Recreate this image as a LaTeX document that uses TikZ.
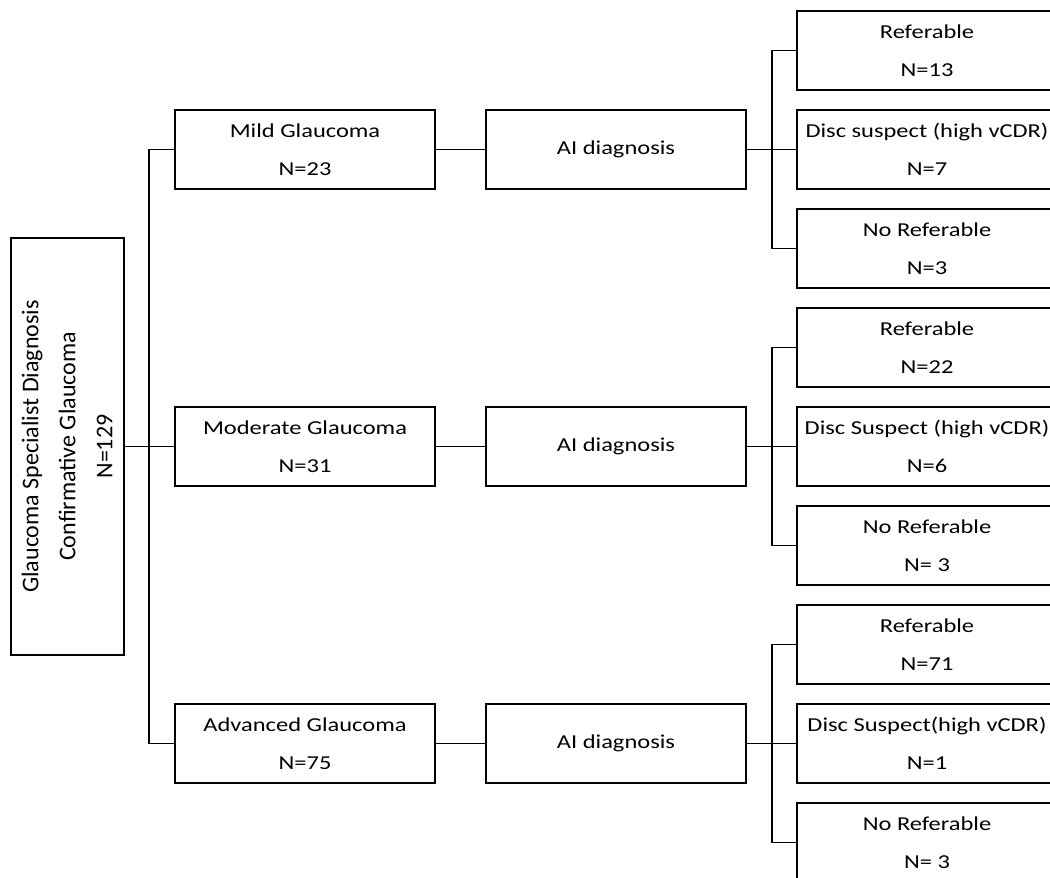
\documentclass[tikz,border=0pt]{standalone}
\usepackage{fontspec}
\setmainfont{Carlito}
\newfontfamily\boxfont[FakeStretch=1.24]{Carlito}
\begin{document}
\begin{tikzpicture}[x=0.75pt, y=-0.75pt,
    box/.style={draw, line width=1.5pt, minimum width=195pt, minimum height=59.25pt,
        inner sep=0pt, align=center, font=\boxfont\fontsize{14.8}{28.5}\selectfont},
    mainbox/.style={draw, line width=1.5pt, rotate=90, minimum width=312.75pt,
        minimum height=84.75pt, inner sep=0pt, align=center, font=\fontsize{18}{27.75}\selectfont},
    link/.style={line width=1pt}]
    % Frame
    \useasboundingbox (0,0) rectangle (1050,878);
    \clip (0,0) rectangle (1050,878);

    % Main box
    \node[mainbox] (main) at (67,446.5) {Glaucoma Specialist Diagnosis\\Confirmative Glaucoma\\N=129};

    % Stages and AI boxes
    \foreach \g/\yy/\stage/\n in {mild/0/Mild Glaucoma/23, mod/297/Moderate Glaucoma/31, adv/594/Advanced Glaucoma/75} {
        \node[box] (\g) at (305,149.5+\yy) {\stage\\N=\n};
        \node[box] (\g ai) at (616,149.5+\yy) {AI diagnosis};
        \draw[link] (\g.east) -- (\g ai.west);
    }

    % Connectors from main box
    \coordinate (bus) at (149,446.5);
    \draw[link] (main.south) -- (mod.west);
    \draw[link] (mild.west) -| (bus) |- (adv.west);

    % Outcomes
    \foreach \g/\yy/\ra/\dtxt/\db/\dn in {mild/0/{N=13}/{Disc suspect (high vCDR)}/{N=7}/{N=3},
        mod/297/{N=22}/{Disc Suspect (high vCDR)}/{N=6}/{N= 3},
        adv/594/{N=71}/{Disc Suspect(high vCDR)}/{N=1}/{N= 3}} {
        \node[box] (\g ref) at (927,50.5+\yy) {Referable\\\ra};
        \node[box] (\g disc) at (927,149.5+\yy) {\dtxt\\\db};
        \node[box] (\g no) at (927,248.5+\yy) {No Referable\\\dn};
        \coordinate (\g bus) at (772,149.5+\yy);
        \draw[link] (\g ai.east) -- (\g disc.west);
        \draw[link] (\g ref.west) -| (\g bus) |- (\g no.west);
    }
\end{tikzpicture}
\end{document}
